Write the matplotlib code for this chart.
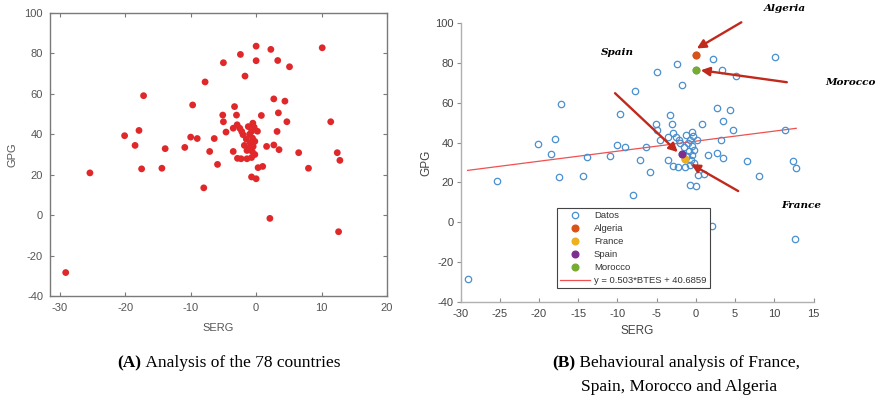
import matplotlib
matplotlib.use('Agg')
import matplotlib.pyplot as plt

plt.rcParams['axes.unicode_minus'] = False

# ---------------- data ----------------
serg = [-29.1, -25.4, -20.1, -18.5, -17.9, -17.2, -17.5, -14.4, -13.9, -10.9,
        -10.0, -9.7, -9.0, -7.8, -8.0, -7.1, -6.4, -5.9, -5.1, -5.0,
        -2.4, -1.7, 0.0, 0.0, 2.25, 3.3, 5.1, 10.1, 2.7, 4.4,
        3.4, 4.7, 3.2, 11.4, 0.8, -3.3, -3.0, -5.0, -4.6, -3.5,
        -3.5, 1.6, 2.7, 3.5, 6.5, 12.4, 12.8, 8.0, 0.3, 1.0,
        -0.7, 0.0, -2.85, -2.3, -1.4, -0.7, -2.9, -2.2, -2.0, -1.2,
        -0.5, -0.3, -0.7, -1.5, -0.55, -1.8, -1.1, -0.45, -1.4, -0.6,
        2.1, 12.6, -1.0, -0.2, -2.5, 0.2, -0.9, -0.2]
gpg = [-28.4, 20.9, 39.3, 34.5, 41.9, 59.1, 22.9, 23.2, 32.9, 33.5,
       38.6, 54.5, 37.9, 65.9, 13.5, 31.5, 37.9, 25.1, 49.5, 75.4,
       79.5, 68.8, 83.6, 76.4, 82.0, 76.5, 73.4, 82.8, 57.5, 56.4,
       50.6, 46.2, 41.4, 46.2, 49.3, 53.7, 49.5, 46.2, 41.1, 31.5,
       43.0, 34.0, 34.7, 32.4, 30.9, 30.9, 27.1, 23.2, 23.5, 24.1,
       18.9, 18.0, 28.1, 27.9, 27.9, 28.5, 44.7, 41.4, 39.8, 43.8,
       45.5, 43.5, 41.4, 37.6, 38.1, 34.5, 33.2, 34.0, 32.0, 31.5,
       -1.6, -8.2, 40.0, 36.5, 43.0, 41.5, 35.8, 30.0]

country_names = ['Algeria', 'France', 'Spain', 'Morocco']
country_serg = [0.0, -1.4, -1.8, 0.0]
country_gpg = [83.6, 32.0, 34.5, 76.4]
country_colors = ['#D95319', '#EDB120', '#7E2F8E', '#77AC30']

fit_slope = 0.503
fit_intercept = 40.6859
fit_label = 'y = 0.503*BTES + 40.6859'

xticks_a = [-30, -20, -10, 0, 10, 20]
xticks_b = [-30, -25, -20, -15, -10, -5, 0, 5, 10, 15]
yticks = [-40, -20, 0, 20, 40, 60, 80, 100]

# ---------------- figure ----------------
W, H = 883, 401
fig = plt.figure(figsize=(W / 100, H / 100), dpi=100)
fig.patch.set_facecolor('white')

sans = ['Liberation Sans', 'DejaVu Sans']
serif = ['Liberation Serif', 'DejaVu Serif']

# ----- panel A -----
axA = fig.add_axes([50 / W, 1 - 296 / H, 337 / W, 283 / H])
axA.scatter(serg, gpg, s=24, color='#e0282a', edgecolors='none', zorder=3)
axA.set_xlim(-31.5, 20)
axA.set_ylim(-40, 100)
axA.set_xticks(xticks_a)
axA.set_yticks(yticks)
for sp in axA.spines.values():
    sp.set_color('#7a7a7a')
    sp.set_linewidth(1.0)
axA.tick_params(direction='in', length=3, width=0.8, color='#7a7a7a',
                top=True, right=True, labelsize=8, labelcolor='#555555', pad=5)
for lab in axA.get_xticklabels() + axA.get_yticklabels():
    lab.set_family(sans)
axA.set_xlabel('SERG', fontsize=8, color='#555555', family=sans, labelpad=7)
axA.set_ylabel('GPG', fontsize=8, color='#555555', family=sans, labelpad=5)

# ----- panel B -----
axB = fig.add_axes([460.5 / W, 1 - 302.3 / H, 353 / W, 279.6 / H])
axB.plot(serg, gpg, linestyle='none', marker='o', ms=4.6, mfc='none',
         mec='#4a90d0', mew=0.9, label='Datos', zorder=3)
for nm, cx, cy, cc in zip(country_names, country_serg, country_gpg, country_colors):
    axB.plot([cx], [cy], linestyle='none', marker='o', ms=4.8, mfc=cc, mec=cc,
             label=nm, zorder=4)
xmin, xmax = min(serg), max(serg)
axB.plot([xmin, xmax], [fit_slope * xmin + fit_intercept, fit_slope * xmax + fit_intercept],
         color='#f05050', lw=0.9, label=fit_label, zorder=2)
axB.set_xlim(-30, 15)
axB.set_ylim(-40, 100)
axB.set_xticks(xticks_b)
axB.set_yticks(yticks)
for s in ['top', 'right']:
    axB.spines[s].set_visible(False)
for s in ['left', 'bottom']:
    axB.spines[s].set_color('#b0b0b0')
    axB.spines[s].set_linewidth(1.0)
axB.tick_params(direction='in', length=3, width=0.8, color='#909090',
                labelsize=8, labelcolor='#444444', pad=5)
axB.tick_params(axis='y', direction='out', pad=2)
for lab in axB.get_xticklabels() + axB.get_yticklabels():
    lab.set_family(sans)
axB.set_xlabel('SERG', fontsize=8.5, color='#444444', family=sans, labelpad=4)
axB.set_ylabel('GPG', fontsize=8.5, color='#444444', family=sans, labelpad=2)

leg = axB.legend(loc='upper left', bbox_to_anchor=(0.272, 0.338),
                 prop={'family': sans, 'size': 6.8}, frameon=True, fancybox=False,
                 edgecolor='#444444', framealpha=1, handlelength=3.2,
                 labelspacing=0.42, borderpad=0.35, handletextpad=0.4,
                 borderaxespad=0)
leg.get_frame().set_linewidth(0.8)
for t in leg.get_texts():
    t.set_color('#333333')

# arrows and labels
arrow_col = '#c0291c'
arrows = [((0.13, 87.1), (5.8, 100.2)),    # Algeria
          ((0.63, 76.2), (11.6, 70.2)),    # Morocco
          ((-2.3, 35.2), (-10.3, 64.7)),   # Spain
          ((-0.6, 29.2), (5.4, 15.7))]     # France
for head, tail in arrows:
    axB.annotate('', xy=head, xytext=tail, annotation_clip=False,
                 arrowprops=dict(arrowstyle='-|>', color=arrow_col, lw=1.7,
                                 mutation_scale=13, shrinkA=0, shrinkB=0), zorder=5)
labels = [('Algeria', 11.3, 107.2), ('Spain', -10.0, 85.2),
          ('Morocco', 19.7, 70.2), ('France', 13.4, 8.7)]
for txt, lx, ly in labels:
    axB.text(lx, ly, txt, ha='center', va='center', fontsize=7.5, style='italic',
             fontweight='semibold', family=['DejaVu Serif'], color='black',
             clip_on=False)

# ----- captions -----
renderer = fig.canvas.get_renderer()


def caption(bold, rest, cx, cy, size=12.5):
    t1 = fig.text(0, 1 - cy / H, bold, fontweight='bold', family=serif, size=size,
                  va='center', ha='left')
    t2 = fig.text(0, 1 - cy / H, rest, family=serif, size=size, va='center', ha='left')
    w1 = t1.get_window_extent(renderer).width
    w2 = t2.get_window_extent(renderer).width
    x0 = cx - (w1 + w2) / 2
    t1.set_x(x0 / W)
    t2.set_x((x0 + w1) / W)


caption('(A)', '\u00a0Analysis of the 78 countries', 229, 363)
caption('(B)', '\u00a0Behavioural analysis of France,', 676, 363)
fig.text(679 / W, 1 - 387 / H, 'Spain, Morocco and Algeria', family=serif, size=12.5,
         va='center', ha='center')

fig.savefig('out.png', dpi=100)
